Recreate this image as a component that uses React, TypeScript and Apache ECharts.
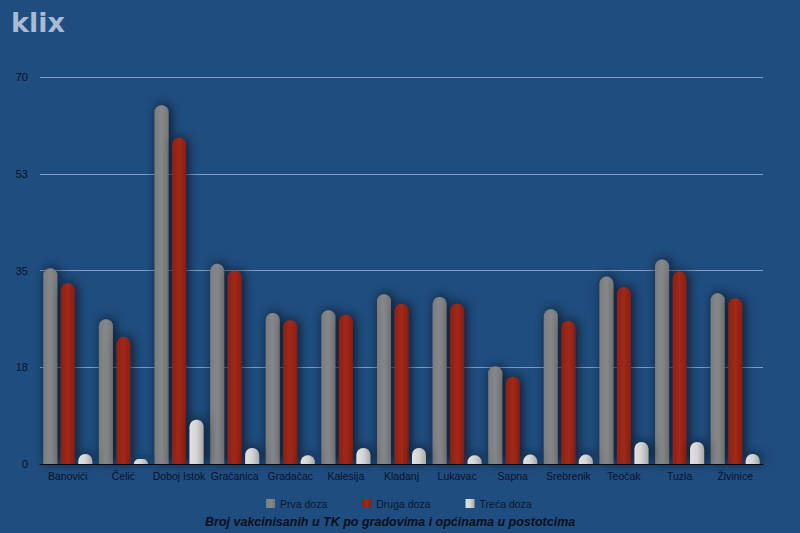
import React, { useEffect, useRef } from "react";
import * as echarts from "echarts";

const categories = ["Banovići", "Čelić", "Doboj Istok", "Gračanica", "Gradačac", "Kalesija", "Kladanj", "Lukavac", "Sapna", "Srebrenik", "Teočak", "Tuzla", "Živinice"];
const prvaDoza = [35.4, 26.2, 64.9, 36.2, 27.3, 27.8, 30.7, 30.2, 17.7, 28.0, 33.9, 37.0, 30.9];
const drugaDoza = [32.7, 23.0, 59.0, 35.0, 26.0, 27.0, 29.0, 29.0, 15.8, 25.9, 32.0, 34.8, 30.0];
const trecaDoza = [1.8, 0.9, 8.0, 2.9, 1.6, 2.9, 2.9, 1.6, 1.7, 1.7, 4.0, 4.0, 1.8];
const seriesNames = ["Prva doza", "Druga doza", "Treća doza"];
const titleText = "Broj vakcinisanih u TK po gradovima i općinama u postotcima";

function grad(c1: string, c2: string, c3: string) {
  return new echarts.graphic.LinearGradient(0, 0, 1, 0, [
    { offset: 0, color: c1 },
    { offset: 0.5, color: c2 },
    { offset: 1, color: c3 },
  ]);
}

export default function App() {
  const ref = useRef<HTMLDivElement>(null);
  useEffect(() => {
    if (!ref.current) return;
    const chart = echarts.init(ref.current, null, { renderer: "svg" });
    const shadow = {
      shadowBlur: 12,
      shadowColor: "rgba(0,0,0,0.7)",
      shadowOffsetX: 2,
      shadowOffsetY: -1,
    };
    const makeSeries = (name: string, data: number[], color: any, legendColor: string) => ({
      name,
      type: "bar",
      data,
      barWidth: 14,
      barGap: "25%",
      color: legendColor,
      itemStyle: { color, borderRadius: [7, 7, 0, 0], ...shadow },
    });
    chart.setOption({
      animation: false,
      backgroundColor: "#1f4d7f",
      textStyle: { fontFamily: "Liberation Sans, Arial, sans-serif" },
      title: {
        text: titleText,
        left: 205,
        top: 515,
        padding: 0,
        textStyle: { fontSize: 12.5, fontWeight: "bold", fontStyle: "italic", color: "#0b1020" },
      },
      legend: {
        top: 498,
        left: 266,
        padding: 0,
        itemWidth: 9,
        itemHeight: 9,
        itemGap: 35,
        icon: "rect",
        textStyle: { fontSize: 10.5, color: "#0d1530" },
        data: seriesNames,
      },
      graphic: [
        {
          type: "text",
          left: 11,
          top: 9,
          style: {
            text: "klix",
            fontSize: 27,
            fontWeight: "bold",
            fontFamily: "DejaVu Sans, sans-serif",
            fill: "#a9bbd2",
          },
        },
      ],
      grid: { left: 40, right: 37, top: 77, bottom: 69 },
      xAxis: {
        type: "category",
        data: categories,
        axisLine: { lineStyle: { color: "#050a14", width: 1 } },
        axisTick: { show: false },
        axisLabel: { color: "#0b1228", fontSize: 10.5, margin: 6, interval: 0 },
      },
      yAxis: {
        type: "value",
        min: 0,
        max: 70,
        interval: 17.5,
        axisLine: { show: false },
        axisTick: { show: false },
        axisLabel: {
          color: "#0b1228",
          fontSize: 11,
          margin: 12,
          formatter: (v: number) => String(Math.round(v)),
        },
        splitLine: { lineStyle: { color: "#7c9dc6", width: 1 } },
      },
      series: [
        makeSeries(seriesNames[0], prvaDoza, grad("#7a7c7e", "#85878a", "#76787a"), "#7d7f81"),
        makeSeries(seriesNames[1], drugaDoza, grad("#8e1f12", "#a2291a", "#8a1d10"), "#9b2314"),
        makeSeries(seriesNames[2], trecaDoza, grad("#e2e2e2", "#d4d4d4", "#a9a9a9"), "#d0d0d0"),
      ],
    });
    return () => chart.dispose();
  }, []);
  return <div ref={ref} style={{ width: 800, height: 533, position: "fixed", left: 0, top: 0 }} />;
}
